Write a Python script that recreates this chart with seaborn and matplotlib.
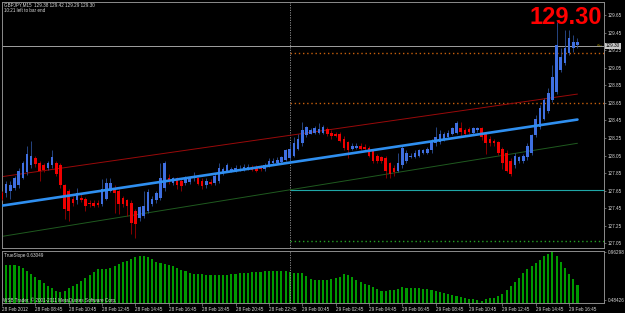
import numpy as np
import pandas as pd
import matplotlib
matplotlib.use("Agg")
import matplotlib.pyplot as plt
import seaborn as sns

# GBPJPY M15, bars from 28 Feb 2012 06:45 to 29 Feb 2012 17:15
opens = [127.62, 127.62, 127.65, 127.68, 127.71, 127.80, 127.86, 127.94, 128.02, 127.97,
         127.94, 127.91, 127.94, 127.96, 127.94, 127.71, 127.65, 127.56, 127.54, 127.57,
         127.56, 127.51, 127.51, 127.51, 127.50, 127.56, 127.65, 127.68, 127.65, 127.57,
         127.54, 127.51, 127.42, 127.34, 127.36, 127.42, 127.50, 127.54, 127.57, 127.68,
         127.80, 127.74, 127.79, 127.76, 127.74, 127.75, 127.79, 127.79, 127.76, 127.71,
         127.75, 127.74, 127.76, 127.86, 127.88, 127.88, 127.88, 127.88, 127.90, 127.90,
         127.91, 127.91, 127.91, 127.90, 127.94, 127.96, 127.97, 127.98, 128.00, 128.02,
         128.05, 128.13, 128.19, 128.28, 128.30, 128.31, 128.31, 128.31, 128.35, 128.31,
         128.30, 128.30, 128.24, 128.20, 128.13, 128.14, 128.16, 128.15, 128.14, 128.11,
         128.05, 128.03, 128.02, 127.96, 127.91, 127.88, 127.94, 127.99, 128.03, 128.03,
         128.05, 128.08, 128.08, 128.11, 128.19, 128.20, 128.24, 128.26, 128.30, 128.31,
         128.36, 128.34, 128.35, 128.31, 128.34, 128.36, 128.30, 128.24, 128.22, 128.20,
         128.13, 128.08, 127.99, 127.94, 127.99, 127.99, 128.03, 128.08, 128.28, 128.37,
         128.47, 128.56, 128.68, 128.77, 129.02, 129.10, 129.22, 129.28, 129.31]
highs = [127.65, 127.76, 127.76, 127.82, 127.91, 127.99, 128.16, 128.22, 128.05, 127.99,
         127.96, 127.99, 128.11, 127.99, 127.96, 127.73, 127.67, 127.59, 127.68, 127.62,
         127.58, 127.54, 127.54, 127.54, 127.78, 127.79, 127.79, 127.71, 127.67, 127.59,
         127.56, 127.54, 127.44, 127.48, 127.65, 127.67, 127.59, 127.65, 127.97, 127.99,
         127.84, 127.81, 127.81, 127.79, 127.82, 127.81, 127.86, 127.81, 127.79, 127.79,
         127.78, 127.84, 127.96, 127.92, 127.97, 127.92, 127.94, 127.94, 127.95, 127.95,
         127.94, 127.94, 127.94, 127.96, 128.02, 128.02, 128.03, 128.05, 128.13, 128.19,
         128.26, 128.30, 128.43, 128.39, 128.36, 128.39, 128.42, 128.40, 128.37, 128.34,
         128.32, 128.32, 128.27, 128.22, 128.19, 128.19, 128.19, 128.18, 128.16, 128.13,
         128.07, 128.05, 128.04, 127.98, 127.94, 128.08, 128.16, 128.11, 128.08, 128.11,
         128.13, 128.13, 128.15, 128.24, 128.37, 128.34, 128.32, 128.34, 128.38, 128.44,
         128.43, 128.36, 128.37, 128.38, 128.38, 128.38, 128.32, 128.27, 128.24, 128.22,
         128.15, 128.11, 128.02, 128.08, 128.05, 128.07, 128.19, 128.30, 128.51, 128.62,
         128.70, 128.82, 129.08, 129.57, 129.28, 129.48, 129.48, 129.42, 129.39]
lows = [127.54, 127.58, 127.56, 127.66, 127.68, 127.78, 127.83, 127.91, 127.92, 127.76,
        127.86, 127.89, 127.91, 127.82, 127.68, 127.33, 127.31, 127.48, 127.50, 127.52,
        127.42, 127.47, 127.46, 127.47, 127.48, 127.54, 127.63, 127.40, 127.39, 127.47,
        127.36, 127.16, 127.11, 127.31, 127.34, 127.40, 127.48, 127.51, 127.55, 127.65,
        127.73, 127.72, 127.67, 127.65, 127.72, 127.73, 127.76, 127.71, 127.67, 127.68,
        127.71, 127.72, 127.74, 127.83, 127.86, 127.86, 127.86, 127.87, 127.88, 127.89,
        127.87, 127.86, 127.88, 127.88, 127.92, 127.95, 127.96, 127.97, 127.99, 127.99,
        128.03, 128.11, 128.16, 128.26, 128.29, 128.30, 128.29, 128.30, 128.27, 128.24,
        128.26, 128.20, 128.11, 128.02, 128.11, 128.13, 128.11, 128.11, 128.03, 127.97,
        127.97, 127.97, 127.79, 127.79, 127.82, 127.86, 127.91, 127.97, 128.02, 128.02,
        128.03, 128.07, 128.07, 128.08, 128.16, 128.18, 128.22, 128.24, 128.28, 128.29,
        128.26, 128.28, 128.30, 128.30, 128.32, 128.23, 128.07, 128.16, 128.16, 128.06,
        127.90, 127.86, 127.82, 127.91, 127.97, 127.97, 128.00, 128.06, 128.26, 128.35,
        128.45, 128.54, 128.66, 128.75, 129.00, 129.08, 129.19, 129.23, 129.28]
closes = [127.56, 127.73, 127.71, 127.79, 127.88, 127.96, 128.07, 128.05, 127.95, 127.88,
          127.89, 127.97, 128.03, 127.84, 127.71, 127.44, 127.42, 127.51, 127.62, 127.55,
          127.48, 127.50, 127.48, 127.49, 127.67, 127.74, 127.74, 127.62, 127.50, 127.50,
          127.48, 127.28, 127.27, 127.46, 127.48, 127.63, 127.56, 127.62, 127.80, 127.97,
          127.76, 127.79, 127.71, 127.70, 127.80, 127.79, 127.82, 127.73, 127.70, 127.76,
          127.73, 127.82, 127.91, 127.90, 127.94, 127.90, 127.91, 127.90, 127.92, 127.92,
          127.89, 127.88, 127.90, 127.94, 127.99, 127.99, 128.00, 128.03, 128.11, 128.13,
          128.19, 128.24, 128.34, 128.37, 128.34, 128.36, 128.35, 128.37, 128.29, 128.27,
          128.27, 128.22, 128.14, 128.11, 128.16, 128.16, 128.13, 128.13, 128.05, 127.99,
          127.99, 127.99, 127.88, 127.84, 127.86, 127.97, 128.14, 128.08, 128.05, 128.08,
          128.11, 128.11, 128.13, 128.22, 128.26, 128.30, 128.30, 128.31, 128.36, 128.42,
          128.32, 128.30, 128.32, 128.36, 128.36, 128.26, 128.19, 128.19, 128.19, 128.08,
          127.97, 127.88, 127.84, 128.05, 128.03, 128.05, 128.16, 128.28, 128.47, 128.59,
          128.68, 128.76, 128.94, 129.31, 129.17, 129.28, 129.39, 129.34, 129.34]

# TrueSlope histogram
slope = [0.823, 0.833, 0.833, 0.833, 0.823, 0.808, 0.773, 0.744, 0.714, 0.684,
         0.649, 0.624, 0.604, 0.574, 0.564, 0.574, 0.604, 0.624, 0.644, 0.674,
         0.704, 0.729, 0.759, 0.793, 0.798, 0.793, 0.808, 0.828, 0.848, 0.863,
         0.878, 0.898, 0.918, 0.923, 0.926, 0.913, 0.893, 0.868, 0.853, 0.840,
         0.833, 0.823, 0.803, 0.788, 0.773, 0.753, 0.744, 0.741, 0.739, 0.734,
         0.734, 0.734, 0.734, 0.734, 0.734, 0.739, 0.744, 0.749, 0.754, 0.757,
         0.759, 0.764, 0.767, 0.770, 0.773, 0.773, 0.773, 0.773, 0.773, 0.764,
         0.754, 0.749, 0.751, 0.719, 0.694, 0.684, 0.684, 0.684, 0.684, 0.694,
         0.707, 0.717, 0.744, 0.734, 0.711, 0.679, 0.661, 0.644, 0.629, 0.614,
         0.594, 0.579, 0.577, 0.581, 0.586, 0.592, 0.611, 0.602, 0.606, 0.609,
         0.602, 0.599, 0.594, 0.587, 0.579, 0.569, 0.557, 0.544, 0.534, 0.524,
         0.516, 0.507, 0.498, 0.491, 0.482, 0.479, 0.491, 0.500, 0.509, 0.524,
         0.549, 0.584, 0.624, 0.664, 0.704, 0.754, 0.793, 0.823, 0.853, 0.888,
         0.928, 0.943, 0.960, 0.923, 0.868, 0.803, 0.744, 0.689, 0.630]

price_ticks = [129.65, 129.45, 129.25, 129.05, 128.85, 128.65, 128.45,
               128.25, 128.05, 127.85, 127.65, 127.45, 127.25, 127.05]
slope_ticks = [0.96298, 0.48426]
time_bars = [0, 8, 16, 24, 32, 40, 48, 56, 64, 72, 80, 88, 96, 104, 112, 120, 128, 136]
time_labels = ["28 Feb 2012", "28 Feb 08:45", "28 Feb 10:45", "28 Feb 12:45",
               "28 Feb 14:45", "28 Feb 16:45", "28 Feb 18:45", "28 Feb 20:45",
               "28 Feb 22:45", "29 Feb 00:45", "29 Feb 02:45", "29 Feb 04:45",
               "29 Feb 06:45", "29 Feb 08:45", "29 Feb 10:45", "29 Feb 12:45",
               "29 Feb 14:45", "29 Feb 16:45"]

# regression channel, value at first and last bar
chan_bars = [0, 138]
chan_mid = [127.48, 128.46]
chan_up = [127.81, 128.75]
chan_dn = [127.13, 128.19]

bid = 129.30
day_sep = 69  # 29 Feb 00:00
orange_levels = [129.22, 128.65]
teal_level = 127.66
green_level = 127.08

sns.set_style("dark")
plt.rcParams['font.family'] = ['Liberation Sans', 'DejaVu Sans']

W, H = 625, 313
BG = "#000000"
GREY = "#8c8c8c"
TXT = "#d8d8d8"
FS = 3.3

def box(x0, y0, x1, y1):
    return [x0 / W, 1 - y1 / H, (x1 - x0) / W, (y1 - y0) / H]

fig = plt.figure(figsize=(W / 100, H / 100), dpi=100, facecolor=BG)
ax = fig.add_axes(box(2, 2, 604, 248))
ax2 = fig.add_axes(box(2, 251, 604, 303))

n = len(closes)
idx = np.arange(n)
o = np.array(opens)
c = np.array(closes)
h = np.array(highs)
l = np.array(lows)
up = c >= o

# indicator histogram
df = pd.DataFrame({"bar": idx, "slope": slope})
sns.barplot(data=df, x="bar", y="slope", color="#009a00", saturation=1,
            width=0.5, linewidth=0, ax=ax2)

# candles
ax.vlines(idx[up], l[up], h[up], color="#2c4f96", lw=0.6, zorder=3)
ax.vlines(idx[~up], l[~up], h[~up], color="#9a0000", lw=0.6, zorder=3)
body = np.maximum(np.abs(c - o), 0.012)
bottom = np.minimum(o, c)
ax.bar(idx[up], body[up], bottom=bottom[up], width=0.62, color="#3f6fe0",
       linewidth=0, zorder=4)
ax.bar(idx[~up], body[~up], bottom=bottom[~up], width=0.62, color="#f00000",
       linewidth=0, zorder=4)

# channel
sns.lineplot(x=chan_bars, y=chan_mid, ax=ax, color="#2f8ff0", lw=1.9, zorder=5)
sns.lineplot(x=chan_bars, y=chan_up, ax=ax, color="#9a0a0a", lw=0.7, zorder=2)
sns.lineplot(x=chan_bars, y=chan_dn, ax=ax, color="#1f5a1f", lw=0.7, zorder=2)

xmax = (604 - 2) / 4.17
ax.axhline(bid, color="#a0a0a0", lw=0.7, zorder=1)
for lev in orange_levels:
    ax.hlines(lev, day_sep, xmax, color="#c8600c", lw=1.0, linestyles=(0, (1, 2)), zorder=1)
ax.hlines(teal_level, day_sep, xmax, color="#1fa7a7", lw=0.8, zorder=1)
ax.hlines(green_level, day_sep, xmax, color="#22a022", lw=1.0, linestyles=(0, (1, 2)), zorder=1)
for a in (ax, ax2):
    a.axvline(day_sep, color="#9a9a9a", lw=0.6, linestyle=(0, (1.5, 1.5)), zorder=1)

ax.set_xlim(0, xmax)
ax.set_ylim(126.998, 129.798)
ax2.set_xlim(0, xmax)
ax2.set_ylim(0.4545, 0.973)

for a in (ax, ax2):
    a.set_facecolor(BG)
    a.grid(False)
    a.set_xlabel("")
    a.set_ylabel("")
    for s in a.spines.values():
        s.set_color(GREY)
        s.set_linewidth(0.7)
        s.set_visible(True)
    a.yaxis.tick_right()
    a.tick_params(axis="y", colors=GREY, labelcolor=TXT, labelsize=FS,
                  length=1.5, width=0.5, pad=1.2, right=True, left=False)

ax.set_xticks([])
ax.set_yticks(price_ticks)
ax.set_yticklabels([f"{t:.2f}" for t in price_ticks])
ax2.set_yticks(slope_ticks)
ax2.set_yticklabels([f"{t:.5f}" for t in slope_ticks])
ax2.set_xticks(time_bars)
ax2.set_xticklabels(time_labels)
ax2.tick_params(axis="x", colors=GREY, labelcolor=TXT, labelsize=FS,
                length=2, width=0.5, pad=1, bottom=True)
for lbl in ax2.get_xticklabels():
    lbl.set_ha("left")

# current price marker on the axis
ax.text(1.003, bid, "129.30", transform=ax.get_yaxis_transform(), fontsize=FS,
        color="black", va="center", ha="left",
        bbox=dict(boxstyle="square,pad=0.15", fc="#c8c8c8", ec="none"))
ax.text(0.988, bid + 0.015, "<--", transform=ax.get_yaxis_transform(), fontsize=FS,
        color="#b8a000", va="center", ha="left")

fig.text(4 / W, 1 - 5 / H, "GBPJPY,M15  129.38 129.42 129.29 129.30", fontsize=FS,
         color=TXT, va="center", ha="left")
fig.text(4 / W, 1 - 11 / H, "10:21 left to bar end", fontsize=FS,
         color=TXT, va="center", ha="left")
fig.text(602 / W, 1 - 17 / H, "129.30", fontsize=17, fontweight="bold",
         color="#ff0000", va="center", ha="right")
fig.text(4 / W, 1 - 255 / H, "TrueSlope 0.63049", fontsize=FS,
         color=TXT, va="center", ha="left")
fig.text(3 / W, 1 - 300 / H, "WSB Trader, \u00a9 2001-2011 MetaQuotes Software Corp.",
         fontsize=FS, color=TXT, va="center", ha="left")

fig.savefig("out.png", dpi=100, facecolor=BG)
